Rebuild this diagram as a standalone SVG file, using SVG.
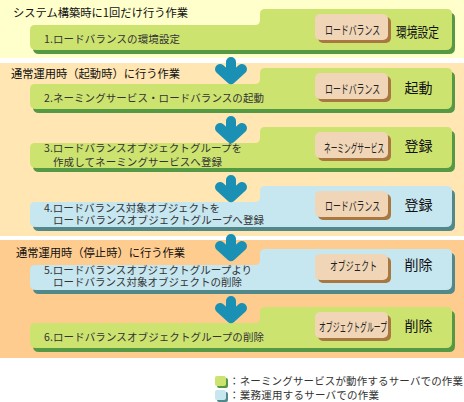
<svg xmlns="http://www.w3.org/2000/svg" xmlns:xlink="http://www.w3.org/1999/xlink" width="464" height="402" viewBox="0 0 464 402">
<style>
.head{font-family:"Noto Sans CJK JP","Noto Sans CJK SC",sans-serif;font-size:11.5px;fill:#111}
.bt{font-family:"Noto Sans CJK JP","Noto Sans CJK SC",sans-serif;font-size:10.5px;fill:#333}
.btn{font-family:"Noto Sans CJK JP","Noto Sans CJK SC",sans-serif;font-size:12px;fill:#222}
.lab{font-family:"Noto Sans CJK JP","Noto Sans CJK SC",sans-serif;font-size:14px;fill:#111}
.gf{fill:#CDE370}.gs{fill:#559944}
.bf{fill:#C6E6F0}.bs{fill:#518889}
.kf{fill:#F0D6B6}.ks{fill:#A87840}
.arr{fill:none;stroke:#1A90B4;stroke-width:10;stroke-linecap:round;stroke-linejoin:round}
</style>
<defs>
<path id="box" d="M30,21 Q30,16 35,16 H255 Q260,16 260,11 V5 Q260,0 265,0 H447 Q452,0 452,5 V35 Q452,41 446,41 H36 Q30,41 30,35 Z"/>
<rect id="btnr" x="315" y="5" width="73" height="26" rx="5"/>
<path id="arrow" d="M231,5 V20 M220,12 L231,22 L242,12"/>
</defs>
<g id="backgrounds">
<rect x="0" y="0" width="464" height="58" fill="#FFFFCC"/>
<rect x="0" y="63" width="464" height="173" fill="#FFE6B2"/>
<rect x="0" y="240" width="464" height="118" fill="#FFCC90"/>
</g>
<g id="headings">
<text class="head" x="13" y="17" textLength="175" lengthAdjust="spacingAndGlyphs">システム構築時に1回だけ行う作業</text>
<text class="head" x="11" y="78" textLength="169" lengthAdjust="spacingAndGlyphs">通常運用時（起動時）に行う作業</text>
<text class="head" x="16" y="257" textLength="169" lengthAdjust="spacingAndGlyphs">通常運用時（停止時）に行う作業</text>
</g>
<g id="node1">
<use xlink:href="#box" class="gs" transform="translate(3,13)"/>
<use xlink:href="#box" class="gf" transform="translate(0,9)"/>
<text class="bt" x="44" y="43" textLength="136">1.ロードバランスの環境設定</text>
<use xlink:href="#btnr" class="ks" transform="translate(3,12)"/>
<use xlink:href="#btnr" class="kf" transform="translate(0,9)"/>
<text class="btn" transform="translate(325,35) scale(0.655,1)" textLength="84" lengthAdjust="spacingAndGlyphs">ロードバランス</text>
<text class="lab" x="396" y="37" textLength="43" lengthAdjust="spacingAndGlyphs">環境設定</text>
</g>
<g id="node2">
<use xlink:href="#box" class="gs" transform="translate(3,72)"/>
<use xlink:href="#box" class="gf" transform="translate(0,68)"/>
<text class="bt" x="44" y="102" textLength="220">2.ネーミングサービス・ロードバランスの起動</text>
<use xlink:href="#btnr" class="ks" transform="translate(3,71)"/>
<use xlink:href="#btnr" class="kf" transform="translate(0,68)"/>
<text class="btn" transform="translate(325,94) scale(0.655,1)" textLength="84" lengthAdjust="spacingAndGlyphs">ロードバランス</text>
<text class="lab" x="418.5" y="93" text-anchor="middle">起動</text>
</g>
<g id="node3">
<use xlink:href="#box" class="gs" transform="translate(3,131)"/>
<use xlink:href="#box" class="gf" transform="translate(0,127)"/>
<text class="bt" x="44" y="152" textLength="198">3.ロードバランスオブジェクトグループを</text>
<text class="bt" x="53" y="165.5" textLength="169">作成してネーミングサービスへ登録</text>
<use xlink:href="#btnr" class="ks" transform="translate(3,130)"/>
<use xlink:href="#btnr" class="kf" transform="translate(0,127)"/>
<text class="btn" transform="translate(324,152.5) scale(0.556,1)" textLength="108" lengthAdjust="spacingAndGlyphs">ネーミングサービス</text>
<text class="lab" x="418.5" y="151" text-anchor="middle">登録</text>
</g>
<g id="node4">
<use xlink:href="#box" class="bs" transform="translate(3,190)"/>
<use xlink:href="#box" class="bf" transform="translate(0,186)"/>
<text class="bt" x="44" y="211.5" textLength="176">4.ロードバランス対象オブジェクトを</text>
<text class="bt" x="53" y="223.5" textLength="211">ロードバランスオブジェクトグループへ登録</text>
<use xlink:href="#btnr" class="ks" transform="translate(3,189)"/>
<use xlink:href="#btnr" class="kf" transform="translate(0,186)"/>
<text class="btn" transform="translate(325,210.5) scale(0.655,1)" textLength="84" lengthAdjust="spacingAndGlyphs">ロードバランス</text>
<text class="lab" x="418.5" y="210" text-anchor="middle">登録</text>
</g>
<g id="node5">
<use xlink:href="#box" class="bs" transform="translate(3,253)"/>
<use xlink:href="#box" class="bf" transform="translate(0,249)"/>
<text class="bt" x="44" y="274" textLength="208">5.ロードバランスオブジェクトグループより</text>
<text class="bt" x="53" y="286" textLength="189">ロードバランス対象オブジェクトの削除</text>
<use xlink:href="#btnr" class="ks" transform="translate(3,252)"/>
<use xlink:href="#btnr" class="kf" transform="translate(0,249)"/>
<text class="btn" transform="translate(330,270.5) scale(0.653,1)" textLength="72" lengthAdjust="spacingAndGlyphs">オブジェクト</text>
<text class="lab" x="418.5" y="270" text-anchor="middle">削除</text>
</g>
<g id="node6">
<use xlink:href="#box" class="gs" transform="translate(3,311)"/>
<use xlink:href="#box" class="gf" transform="translate(0,307)"/>
<text class="bt" x="44" y="341" textLength="220">6.ロードバランスオブジェクトグループの削除</text>
<use xlink:href="#btnr" class="ks" transform="translate(3,310)"/>
<use xlink:href="#btnr" class="kf" transform="translate(0,307)"/>
<text class="btn" transform="translate(319,331.5) scale(0.567,1)" textLength="120" lengthAdjust="spacingAndGlyphs">オブジェクトグループ</text>
<text class="lab" x="418.5" y="331" text-anchor="middle">削除</text>
</g>
<g id="connectors">
<use xlink:href="#arrow" class="arr" transform="translate(0,57)"/>
<use xlink:href="#arrow" class="arr" transform="translate(0,116)"/>
<use xlink:href="#arrow" class="arr" transform="translate(0,175)"/>
<use xlink:href="#arrow" class="arr" transform="translate(0,234)"/>
<use xlink:href="#arrow" class="arr" transform="translate(0,296)"/>
</g>
<g id="legend">
<rect x="217" y="378" width="11" height="10" rx="2" class="gs"/>
<rect x="215" y="376" width="11" height="10" rx="2" class="gf"/>
<rect x="217" y="392" width="11" height="10" rx="2" class="bs"/>
<rect x="215" y="390" width="11" height="10" rx="2" class="bf"/>
<text class="bt" x="229" y="385" textLength="234">：ネーミングサービスが動作するサーバでの作業</text>
<text class="bt" x="229" y="399" textLength="150">：業務運用するサーバでの作業</text>
</g>
</svg>
